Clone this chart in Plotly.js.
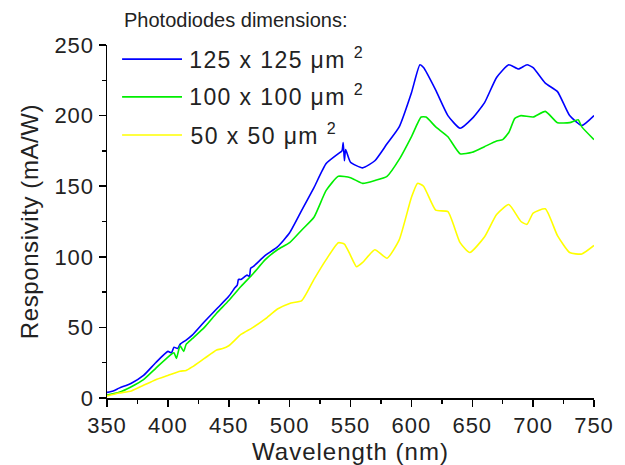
<!DOCTYPE html>
<html>
<head>
<meta charset="utf-8">
<script src="https://cdn.plot.ly/plotly-3.0.1.min.js"></script>
<style>
html,body{margin:0;padding:0;background:#fff;}
#chart{width:625px;height:465px;}
#chart .xtick text, #chart .ytick text{letter-spacing:1px;}
#chart .xtitle{letter-spacing:1px;}
#chart .ytitle{letter-spacing:0.6px;}
#chart g.annotation text{letter-spacing:1.4px;}
#chart g.annotation[data-index="3"] text{letter-spacing:0px;}
</style>
</head>
<body>
<div id="chart"></div>
<script>
// ---- data ----
var legendHeader = "Photodiodes dimensions:";
var seriesNames = ["125 x 125 μm", "100 x 100 μm", "50 x 50 μm"];
var seriesColors = ["#0000ff", "#00ee00", "#ffff00"];

var wl125 = [350,355,360,370,380,390,400,403,405,408,410,415,420,430,440,450,455,457,458,460,465,467,468,470,480,490,500,510,520,530,540,543,544,545,546,550,560,570,580,590,600,607,610,620,630,640,650,660,670,680,688,695,700,710,720,730,740,750];
var r125  = [4,5,7,10.5,16,25,33,32,36,35,38,41,44.5,54,63,72,78,80,84,84,87,86,92,93,101,107,117,133,149,166,173,175,181,168,176,167,163,168,180,192,216,236,234,218,200,191,198,209,227,236,233,236,234,223,217,200,193,200];

var wl100 = [350,360,370,380,390,400,405,407,410,413,415,420,430,440,450,460,470,480,490,500,510,520,530,540,550,560,570,580,590,600,608,612,620,630,640,650,660,670,675,680,685,690,700,710,720,730,737,740,750];
var r100  = [2,4,8,13,21,29,32,28,37,33,38,42,50,60,69,79,88,98,105,110,119,128,147,157,156,152,154,157,169,185,199,199,192,185,173,174,178,182,183,188,198,200,199,203,195,195,197,192,183];

var wl50 = [350,360,370,380,390,400,410,415,420,430,440,445,450,460,470,480,490,500,510,520,530,540,545,550,555,560,570,580,590,600,605,610,620,630,640,648,660,670,680,690,695,700,710,720,730,740,750];
var r50  = [1.5,3.5,5,9,13,16,19,19.5,22,28,34,35,37,45,50,56,63,67,69,84,98,110,109,101,93,96,105,99,112,142,152,150,133,132,110,103,114,130,137,125,123,131,134,115,103,102,108];

var xData = [wl125, wl100, wl50];
var yData = [r125, r100, r50];

var fontFam = "'Liberation Sans', Arial, sans-serif";
var txtColor = "#222";

var traces = xData.map(function(x, i){
  return {
    x: x, y: yData[i], type: 'scatter', mode: 'lines', name: seriesNames[i],
    showlegend: false,
    line: {color: seriesColors[i], width: 1.6, shape: 'spline', smoothing: 0.5}
  };
});

// custom legend (lines 60px long like the reference)
var shapes = [], annotations = [];
var legY = [0.960, 0.853, 0.745];
seriesNames.forEach(function(n, i){
  shapes.push({type:'line', xref:'paper', yref:'paper', x0:0.031, x1:0.154, y0:legY[i], y1:legY[i],
    line:{color:seriesColors[i], width:1.6}});
  annotations.push({xref:'paper', yref:'paper', x:0.185, y:legY[i]+0.004, xanchor:'left', yanchor:'middle',
    showarrow:false, text: n + " <sup>2</sup>", font:{family:fontFam, size:23, color:txtColor}});
});
annotations.push({xref:'paper', yref:'paper', x:0.031, y:1.071, xanchor:'left', yanchor:'middle',
  showarrow:false, text: legendHeader, font:{family:fontFam, size:20, color:txtColor}});

var axisCommon = {
  showgrid:false, zeroline:false, showline:true, linecolor:'#000', linewidth:1.5,
  ticks:'outside', ticklen:7, tickwidth:1.5, tickcolor:'#000',
  tickfont:{family:fontFam, size:22, color:txtColor},
  minor:{ticks:'outside', ticklen:4, tickwidth:1.5, tickcolor:'#000', dtick:25, showgrid:false},
  mirror:false
};

var layout = {
  width:625, height:465,
  margin:{l:107, r:31, t:45, b:67, pad:0},
  paper_bgcolor:'#fff', plot_bgcolor:'#fff',
  showlegend:false,
  xaxis: Object.assign({}, axisCommon, {range:[350,750], dtick:50, tick0:350,
    title:{text:'Wavelength (nm)', font:{family:fontFam, size:24, color:txtColor}, standoff:2}}),
  yaxis: Object.assign({}, axisCommon, {range:[0,250], dtick:50, tick0:0,
    title:{text:'Responsivity (mA/W)', font:{family:fontFam, size:24, color:txtColor}, standoff:12}}),
  shapes: shapes,
  annotations: annotations
};

Plotly.newPlot('chart', traces, layout, {displayModeBar:false, staticPlot:true});
</script>
</body>
</html>
